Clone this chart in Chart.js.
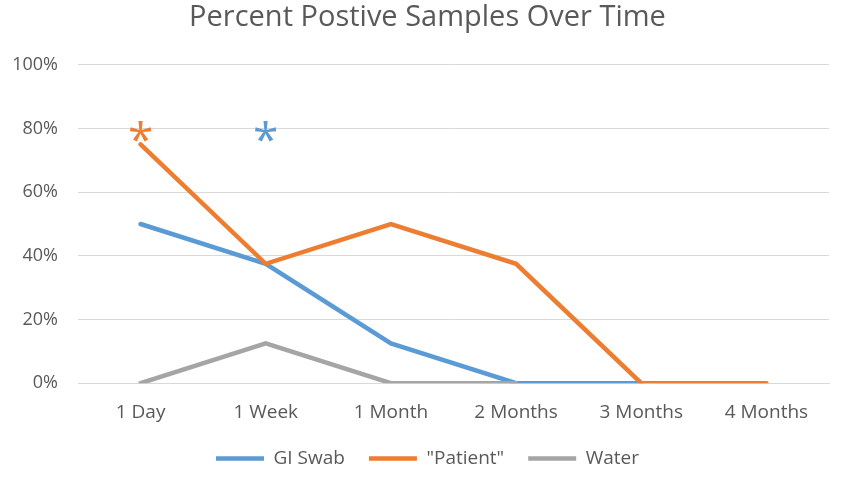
<!DOCTYPE html>
<html>
<head>
<meta charset="utf-8">
<script src="https://cdn.jsdelivr.net/npm/chart.js@4"></script>
<style>
  html, body { margin: 0; padding: 0; background: #fff; }
  #wrap { width: 850px; height: 488px; }
</style>
</head>
<body>
<div id="wrap"><canvas id="lineChart"></canvas></div>
<script>
var labels = ["1 Day", "1 Week", "1 Month", "2 Months", "3 Months", "4 Months"];
var giSwab = [50, 37.5, 12.5, 0, 0, null];
var patient = [75, 37.5, 50, 37.5, 0, 0];
var water = [0, 12.5, 0, 0, null, null];
// significance asterisks
var starLabels = ["1 Day", "1 Week"];
var starValues = [79, 79];
var starColors = ["#ED7D31", "#5B9BD5"];

var asterisks = {
    id: 'asterisks',
    afterDatasetsDraw: function (chart) {
        var c = chart.ctx;
        var x = chart.scales.x, y = chart.scales.y;
        c.save();
        c.font = "46px 'Open Sans'";
        c.textAlign = "center";
        c.textBaseline = "alphabetic";
        for (var i = 0; i < starLabels.length; i++) {
            var m = c.measureText("*");
            var px = x.getPixelForValue(labels.indexOf(starLabels[i]));
            var py = y.getPixelForValue(starValues[i]);
            c.fillStyle = starColors[i];
            c.fillText("*", px, py + (m.actualBoundingBoxAscent - m.actualBoundingBoxDescent) / 2);
        }
        c.restore();
    }
};

Chart.defaults.font.family = "'Open Sans', sans-serif";
Chart.defaults.color = "#595959";

var ctx = document.getElementById("lineChart");
var myChart = new Chart(ctx, {
    type: 'line',
    data: {
        labels: labels,
        datasets: [
            {
                label: 'GI Swab',
                data: giSwab,
                borderColor: "#5B9BD5",
                backgroundColor: "#5B9BD5",
                borderWidth: 4.5,
                pointRadius: 0,
                borderCapStyle: "round",
                order: 3
            },
            {
                label: '"Patient"',
                data: patient,
                borderColor: "#ED7D31",
                backgroundColor: "#ED7D31",
                borderWidth: 4.5,
                pointRadius: 0,
                borderCapStyle: "round",
                order: 2
            },
            {
                label: 'Water',
                data: water,
                borderColor: "#A5A5A5",
                backgroundColor: "#A5A5A5",
                borderWidth: 4.5,
                pointRadius: 0,
                borderCapStyle: "round",
                order: 1
            }
        ]
    },
    options: {
        responsive: true,
        maintainAspectRatio: false,
        animation: false,
        layout: { padding: { left: 5, right: 0, top: 0, bottom: 10 } },
        plugins: {
            title: {
                display: true,
                text: 'Percent Postive Samples Over Time',
                font: { size: 29, weight: 'normal' },
                color: "#595959",
                padding: { top: 0, bottom: 30 }
            },
            legend: {
                position: 'bottom',
                labels: {
                    usePointStyle: true,
                    pointStyle: 'line',
                    pointStyleWidth: 48,
                    font: { size: 19 },
                    padding: 24,
                    sort: function (a, b) { return a.datasetIndex - b.datasetIndex; }
                }
            },
            tooltip: { enabled: false }
        },
        scales: {
            x: {
                offset: true,
                afterFit: function (s) { s.height -= 9; },
                grid: { display: false },
                border: { color: "#D9D9D9", width: 1 },
                ticks: { font: { size: 19 }, padding: 10 }
            },
            y: {
                min: 0,
                max: 100,
                afterFit: function (s) { s.width = 73; },
                ticks: {
                    stepSize: 20,
                    font: { size: 18 },
                    padding: 20,
                    callback: function (v) { return v + "%"; }
                },
                grid: { color: "#D9D9D9", drawTicks: false },
                border: { display: false }
            },
            // empty right margin
            y2: {
                position: 'right',
                afterFit: function (s) { s.width = 21; },
                grid: { display: false },
                ticks: { display: false },
                border: { display: false }
            }
        }
    },
    plugins: [asterisks]
});
</script>
</body>
</html>
